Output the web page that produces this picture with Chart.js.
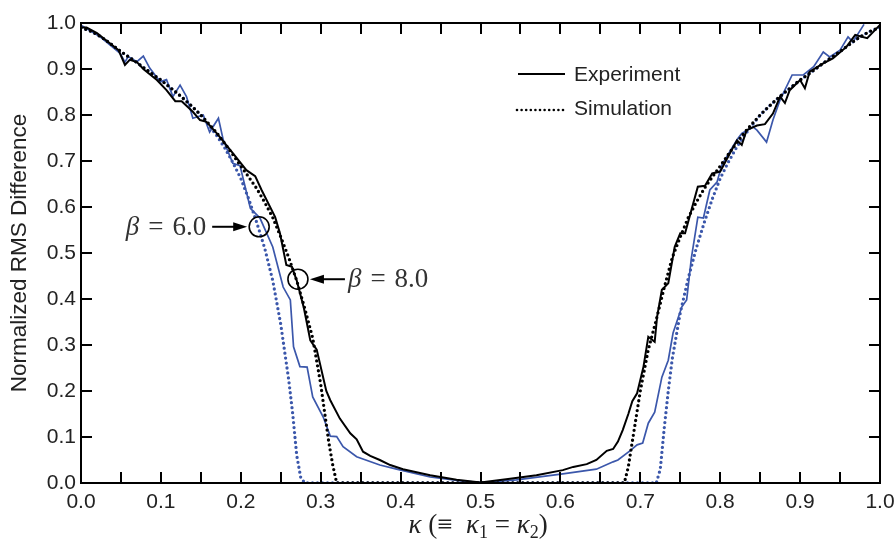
<!DOCTYPE html>
<html>
<head>
<meta charset="utf-8">
<script src="https://cdn.jsdelivr.net/npm/chart.js@4.4.0/dist/chart.umd.min.js"></script>
<style>
  html, body { margin: 0; padding: 0; background: #fff; }
</style>
</head>
<body>
<canvas id="chart" width="895" height="541"></canvas>
<script>
// ---- DATA ----
// experiment, beta = 8.0 (black solid)
const kExp8 = [0.000,0.007,0.020,0.047,0.055,0.061,0.070,0.078,0.095,0.107,0.118,0.126,0.140,0.149,0.157,0.170,0.190,0.207,0.218,0.226,0.243,0.249,0.257,0.264,0.270,0.279,0.287,0.295,0.307,0.312,0.324,0.337,0.345,0.353,0.362,0.374,0.387,0.403,0.437,0.470,0.500,0.537,0.570,0.603,0.616,0.633,0.645,0.658,0.666,0.672,0.678,0.685,0.690,0.696,0.704,0.710,0.718,0.721,0.727,0.735,0.743,0.750,0.756,0.772,0.781,0.790,0.800,0.812,0.821,0.827,0.833,0.846,0.856,0.866,0.875,0.881,0.887,0.900,0.906,0.912,0.929,0.941,0.958,0.969,0.984,1.000];
const vExp8 = [0.990,0.990,0.978,0.941,0.909,0.920,0.915,0.900,0.876,0.854,0.830,0.830,0.807,0.789,0.785,0.760,0.717,0.680,0.667,0.637,0.578,0.543,0.474,0.470,0.440,0.380,0.310,0.290,0.200,0.180,0.140,0.108,0.095,0.068,0.059,0.050,0.039,0.030,0.017,0.007,0.001,0.009,0.017,0.028,0.035,0.041,0.050,0.070,0.074,0.090,0.115,0.150,0.178,0.195,0.253,0.318,0.307,0.361,0.420,0.434,0.513,0.543,0.543,0.644,0.646,0.673,0.677,0.716,0.745,0.735,0.767,0.777,0.780,0.803,0.840,0.826,0.854,0.876,0.858,0.894,0.912,0.923,0.948,0.974,0.967,0.996];

// experiment, beta = 6.0 (blue solid)
const kExp6 = [0.000,0.024,0.049,0.055,0.059,0.070,0.078,0.086,0.099,0.107,0.115,0.124,0.132,0.140,0.153,0.161,0.172,0.178,0.190,0.199,0.212,0.224,0.240,0.253,0.262,0.266,0.274,0.283,0.290,0.303,0.312,0.320,0.328,0.345,0.374,0.395,0.437,0.478,0.503,0.545,0.603,0.645,0.666,0.672,0.687,0.696,0.703,0.710,0.718,0.727,0.735,0.741,0.752,0.758,0.764,0.772,0.779,0.787,0.796,0.802,0.808,0.821,0.827,0.841,0.846,0.858,0.866,0.875,0.890,0.904,0.917,0.929,0.937,0.950,0.960,0.966,0.980];
const vExp6 = [0.995,0.970,0.934,0.915,0.927,0.916,0.928,0.902,0.872,0.877,0.840,0.865,0.840,0.793,0.800,0.763,0.793,0.746,0.695,0.690,0.597,0.576,0.513,0.426,0.398,0.296,0.253,0.252,0.187,0.144,0.102,0.101,0.079,0.057,0.039,0.030,0.013,0.004,0.001,0.007,0.020,0.030,0.046,0.050,0.070,0.083,0.087,0.130,0.154,0.230,0.267,0.326,0.383,0.398,0.490,0.578,0.576,0.637,0.654,0.691,0.709,0.746,0.760,0.774,0.767,0.741,0.789,0.833,0.887,0.887,0.905,0.937,0.926,0.941,0.970,0.959,0.997];

// simulation, beta = 8.0 (black dotted)
const kSim8 = [0.00,0.01,0.02,0.03,0.04,0.05,0.06,0.07,0.08,0.09,0.10,0.11,0.12,0.13,0.14,0.15,0.16,0.17,0.18,0.19,0.20,0.21,0.22,0.23,0.24,0.25,0.26,0.27,0.28,0.29,0.30,0.31,0.315,0.32,0.68,0.685,0.69,0.70,0.71,0.72,0.73,0.74,0.75,0.76,0.77,0.78,0.79,0.80,0.81,0.82,0.83,0.84,0.85,0.86,0.87,0.88,0.89,0.90,0.91,0.92,0.93,0.94,0.95,0.96,0.97,0.98,0.99,1.00];
const vSim8 = [0.990,0.984,0.975,0.964,0.951,0.938,0.926,0.914,0.901,0.888,0.876,0.862,0.848,0.833,0.817,0.800,0.781,0.761,0.738,0.714,0.689,0.665,0.640,0.610,0.577,0.535,0.490,0.440,0.380,0.315,0.215,0.090,0.040,0.000,0.000,0.035,0.090,0.200,0.290,0.355,0.425,0.490,0.535,0.577,0.610,0.640,0.665,0.689,0.714,0.738,0.761,0.781,0.800,0.817,0.833,0.848,0.862,0.876,0.888,0.901,0.914,0.926,0.938,0.951,0.964,0.975,0.984,0.990];

// simulation, beta = 6.0 (blue dotted)
const kSim6 = [0.00,0.01,0.02,0.03,0.04,0.05,0.06,0.07,0.08,0.09,0.10,0.11,0.12,0.13,0.14,0.15,0.16,0.17,0.18,0.19,0.20,0.21,0.22,0.23,0.24,0.25,0.26,0.265,0.27,0.275,0.28,0.72,0.725,0.73,0.735,0.74,0.75,0.76,0.77,0.78,0.79,0.80,0.81,0.82,0.83,0.84,0.85,0.86,0.87,0.88,0.89,0.90,0.91,0.92,0.93,0.94,0.95,0.96,0.97,0.98,0.99,1.00];
const vSim6 = [0.990,0.984,0.975,0.964,0.951,0.938,0.926,0.914,0.901,0.888,0.876,0.862,0.848,0.833,0.817,0.800,0.778,0.755,0.728,0.697,0.662,0.617,0.566,0.510,0.440,0.345,0.224,0.150,0.060,0.012,0.000,0.000,0.030,0.120,0.200,0.270,0.370,0.445,0.510,0.566,0.617,0.662,0.697,0.728,0.755,0.778,0.800,0.817,0.833,0.848,0.862,0.876,0.888,0.901,0.914,0.926,0.938,0.951,0.964,0.975,0.984,0.990];

const xTicks = [0.0,0.1,0.2,0.3,0.4,0.5,0.6,0.7,0.8,0.9,1.0];
const yTicks = [0.0,0.1,0.2,0.3,0.4,0.5,0.6,0.7,0.8,0.9,1.0];

// ---- STYLE ----
const BLUE = '#3b57ab';
const SANS = "'Liberation Sans', Arial, sans-serif";
const SERIF = "'Liberation Serif', 'DejaVu Serif', serif";

function pts(k, v){ return k.map((x, i) => ({ x: x, y: v[i] })); }

// frame, inward ticks, legend, annotations, x title
const decor = {
  id: 'decor',
  afterDatasetsDraw(chart){
    const ctx = chart.ctx;
    const a = chart.chartArea;
    const sx = chart.scales.x, sy = chart.scales.y;
    const T = 11;
    ctx.save();
    ctx.strokeStyle = '#000';
    ctx.lineWidth = 2;
    ctx.strokeRect(a.left, a.top, a.right - a.left, a.bottom - a.top);
    ctx.beginPath();
    for(let i = 1; i < 20; i++){
      const px = Math.round(sx.getPixelForValue(i * 0.05));
      ctx.moveTo(px, a.bottom); ctx.lineTo(px, a.bottom - T);
      ctx.moveTo(px, a.top); ctx.lineTo(px, a.top + T);
    }
    for(let i = 1; i < 10; i++){
      const py = Math.round(sy.getPixelForValue(yTicks[i]));
      ctx.moveTo(a.left, py); ctx.lineTo(a.left + T, py);
      ctx.moveTo(a.right, py); ctx.lineTo(a.right - T, py);
    }
    ctx.stroke();

    // legend
    ctx.lineWidth = 2;
    ctx.beginPath(); ctx.moveTo(518, 74); ctx.lineTo(565, 74); ctx.stroke();
    ctx.fillStyle = '#000';
    for(let x = 517; x <= 566; x += 4.6){
      ctx.beginPath(); ctx.arc(x, 110, 1.3, 0, Math.PI * 2); ctx.fill();
    }
    ctx.fillStyle = '#222';
    ctx.font = '21px ' + SANS;
    ctx.textBaseline = 'middle';
    ctx.textAlign = 'left';
    ctx.fillText('Experiment', 574, 75);
    ctx.fillText('Simulation', 574, 109);

    // beta annotations
    drawMarker(ctx, sx.getPixelForValue(0.223), sy.getPixelForValue(0.557), 'left', '6.0');
    drawMarker(ctx, sx.getPixelForValue(0.2715), sy.getPixelForValue(0.443), 'right', '8.0');

    // x axis title: kappa (= kappa1 = kappa2)
    const F = 27;
    const parts = [
      ['κ', 'italic ' + F + 'px ' + SERIF, 0],
      [' (', F + 'px ' + SERIF, 0],
      ['≡', F + 'px ' + SERIF, 0],
      ['  ', F + 'px ' + SERIF, 0],
      ['κ', 'italic ' + F + 'px ' + SERIF, 0],
      ['1', '18px ' + SERIF, 5],
      [' = ', F + 'px ' + SERIF, 0],
      ['κ', 'italic ' + F + 'px ' + SERIF, 0],
      ['2', '18px ' + SERIF, 5],
      [')', F + 'px ' + SERIF, 0]
    ];
    let w = 0;
    parts.forEach(p => { ctx.font = p[1]; w += ctx.measureText(p[0]).width; });
    let x0 = sx.getPixelForValue(0.497) - w / 2;
    ctx.textBaseline = 'alphabetic';
    ctx.fillStyle = '#222';
    parts.forEach(p => {
      ctx.font = p[1];
      ctx.fillText(p[0], x0, 533 + p[2]);
      x0 += ctx.measureText(p[0]).width;
    });
    ctx.restore();
  }
};

function drawMarker(ctx, cx, cy, side, label){
  const r = 10;
  ctx.save();
  ctx.strokeStyle = '#000';
  ctx.fillStyle = '#000';
  ctx.lineWidth = 1.6;
  ctx.beginPath(); ctx.arc(cx, cy, r, 0, Math.PI * 2); ctx.stroke();
  const dir = side === 'left' ? -1 : 1;
  const tip = cx + dir * (r + 2);
  const tail = cx + dir * (r + 37);
  ctx.lineWidth = 2;
  ctx.beginPath(); ctx.moveTo(tail, cy); ctx.lineTo(tip + dir * 10, cy); ctx.stroke();
  ctx.beginPath();
  ctx.moveTo(tip, cy);
  ctx.lineTo(tip + dir * 14, cy - 4.5);
  ctx.lineTo(tip + dir * 14, cy + 4.5);
  ctx.closePath(); ctx.fill();

  // label "beta = x.x"
  const parts = [['β', 'italic 27px ' + SERIF, 9], ['=', '27px ' + SERIF, 9], [label, '27px ' + SERIF, 0]];
  let w = 0;
  parts.forEach(p => { ctx.font = p[1]; w += ctx.measureText(p[0]).width + p[2]; });
  let x = side === 'left' ? tail - 6 - w : tail + 3;
  ctx.fillStyle = '#333';
  ctx.textBaseline = 'middle';
  ctx.textAlign = 'left';
  parts.forEach(p => {
    ctx.font = p[1];
    ctx.fillText(p[0], x, cy + 1);
    x += ctx.measureText(p[0]).width + p[2];
  });
  ctx.restore();
}

const dotted = { borderDash: [0, 5], borderCapStyle: 'round', borderWidth: 3.3 };

new Chart(document.getElementById('chart'), {
  type: 'line',
  data: {
    datasets: [
      { label: 'Experiment β=8.0', data: pts(kExp8, vExp8), borderColor: '#000', borderWidth: 2 },
      Object.assign({ label: 'Simulation β=8.0', data: pts(kSim8, vSim8), borderColor: '#000' }, dotted),
      { label: 'Experiment β=6.0', data: pts(kExp6, vExp6), borderColor: BLUE, borderWidth: 1.7 },
      Object.assign({ label: 'Simulation β=6.0', data: pts(kSim6, vSim6), borderColor: BLUE }, dotted)
    ]
  },
  options: {
    responsive: false,
    animation: false,
    devicePixelRatio: 1,
    elements: { point: { radius: 0 }, line: { tension: 0, fill: false } },
    layout: { padding: { top: 23, right: 15, left: 0, bottom: 0 } },
    plugins: { legend: { display: false }, tooltip: { enabled: false } },
    scales: {
      x: {
        type: 'linear', min: 0, max: 1,
        grid: { display: false, drawTicks: false },
        border: { display: false },
        afterBuildTicks: s => { s.ticks = xTicks.map(v => ({ value: v })); },
        ticks: { padding: 7, color: '#222', font: { family: SANS, size: 21 }, maxRotation: 0,
                 callback: v => Number(v).toFixed(1) },
        afterFit: s => { s.height = 58; s.paddingLeft = 0; s.paddingRight = 0; }
      },
      y: {
        type: 'linear', min: 0, max: 1,
        grid: { display: false, drawTicks: false },
        border: { display: false },
        afterBuildTicks: s => { s.ticks = yTicks.map(v => ({ value: v })); },
        ticks: { padding: 5, color: '#222', font: { family: SANS, size: 21 },
                 callback: v => Number(v).toFixed(1) },
        title: { display: true, text: 'Normalized RMS Difference', color: '#222',
                 font: { family: SANS, size: 22.5 }, padding: { top: 6, bottom: 0 } },
        afterFit: s => { s.width = 81; s.paddingTop = 0; s.paddingBottom = 0; }
      }
    }
  },
  plugins: [decor]
});
</script>
</body>
</html>
